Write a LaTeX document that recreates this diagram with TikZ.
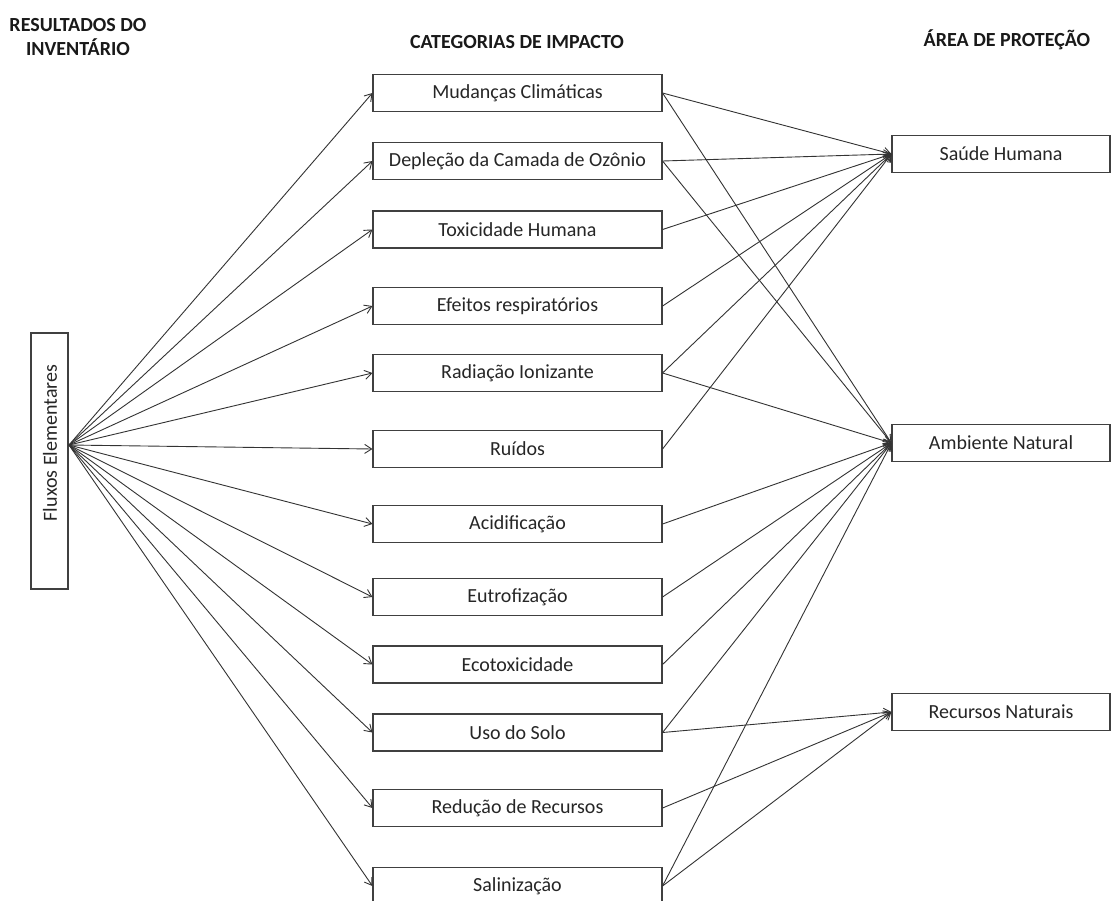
\documentclass[tikz,border=0pt]{standalone}
\usepackage{fontspec}
\setmainfont{Carlito}
\usetikzlibrary{arrows.meta}
\tikzset{
  catbox/.style={draw=black!75, line width=1.1pt, minimum width=289pt, minimum height=37pt, inner sep=0pt, font=\fontsize{20}{24}\selectfont, text=black!85},
  protbox/.style={draw=black!75, line width=1.1pt, minimum width=218pt, minimum height=37pt, inner sep=0pt, font=\fontsize{20}{24}\selectfont, text=black!85},
  hdr/.style={font=\fontsize{20}{24}\selectfont\bfseries, text=black!90, align=center},
  conn/.style={draw=black!80, line width=0.9pt, -{Straight Barb[length=7pt,width=9pt,line width=0.9pt]}},
}
\begin{document}
\begin{tikzpicture}[x=1pt,y=-1pt]
\clip (0,0) rectangle (1113,900);
\fill[white] (0,0) rectangle (1113,900);
% headers
\node[hdr] (h1) at (78,37) {RESULTADOS DO\\INVENTÁRIO};
\node[hdr] (h2) at (517,42) {CATEGORIAS DE IMPACTO};
\node[hdr] (h3) at (1007,40) {ÁREA DE PROTEÇÃO};
% left box
\node[draw=black!75, line width=1.1pt, minimum width=37pt, minimum height=256pt, inner sep=0pt] (flux) at (49.5,461) {};
\node[rotate=90, font=\fontsize{20}{24}\selectfont, text=black!85] (fluxt) at (50,443) {Fluxos Elementares};
\coordinate (hub) at (69,445);
% categories
\node[catbox] (c1) at (517.5,93) {Mudanças Climáticas};
\node[catbox] (c2) at (517.5,161) {Depleção da Camada de Ozônio};
\node[catbox] (c3) at (517.5,229.5) {Toxicidade Humana};
\node[catbox] (c4) at (517.5,306) {Efeitos respiratórios};
\node[catbox] (c5) at (517.5,373) {Radiação Ionizante};
\node[catbox] (c6) at (517.5,449) {Ruídos};
\node[catbox] (c7) at (517.5,524) {Acidificação};
\node[catbox] (c8) at (517.5,597) {Eutrofização};
\node[catbox] (c9) at (517.5,664.5) {Ecotoxicidade};
\node[catbox] (c10) at (517.5,732.5) {Uso do Solo};
\node[catbox] (c11) at (517.5,808) {Redução de Recursos};
\node[catbox] (c12) at (517.5,886) {Salinização};
% protection areas
\node[protbox] (p1) at (1001,154) {Saúde Humana};
\node[protbox] (p2) at (1001,443) {Ambiente Natural};
\node[protbox] (p3) at (1001,712) {Recursos Naturais};
% arrows from inventory
\foreach \i in {1,...,12} {
  \draw[conn] (hub) -- (c\i.west);
}
% to Saude Humana
\foreach \i in {1,...,6} {
  \draw[conn] (c\i.east) -- (p1.west);
}
% to Ambiente Natural
\foreach \i in {1,2,5,7,8,9,10,12} {
  \draw[conn] (c\i.east) -- (p2.west);
}
% to Recursos Naturais
\foreach \i in {10,11,12} {
  \draw[conn] (c\i.east) -- (p3.west);
}
\end{tikzpicture}
\end{document}
